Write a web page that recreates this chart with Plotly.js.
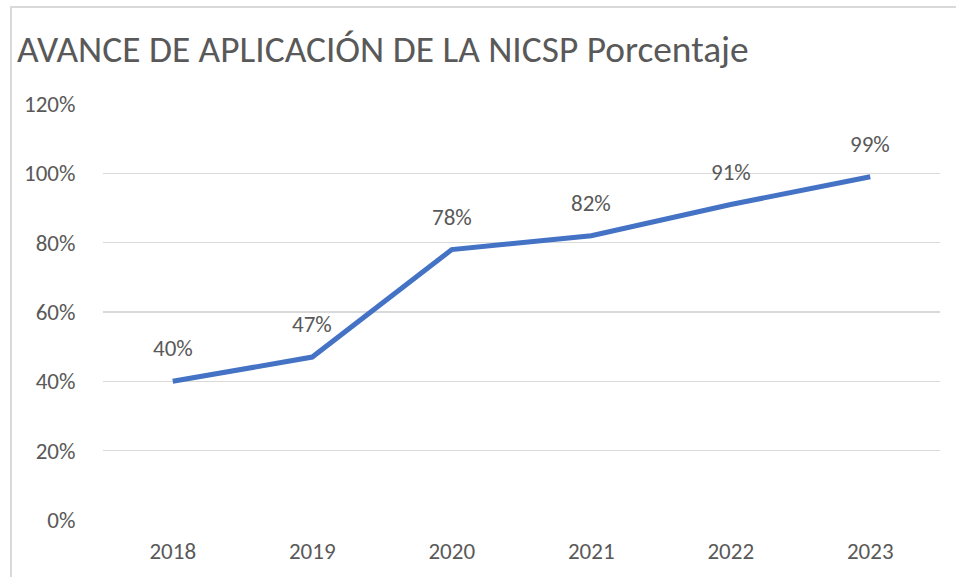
<!DOCTYPE html>
<html>
<head>
<meta charset="utf-8">
<script src="https://cdn.plot.ly/plotly-3.0.1.min.js"></script>
<style>
html,body{margin:0;padding:0;background:#fff;}
#wrap{position:relative;width:956px;height:577px;}
#chart{position:absolute;left:0;top:0;width:956px;height:577px;}
#frame{position:absolute;left:10px;top:6px;width:946px;height:571px;border-left:2px solid #d9d9d9;border-top:2px solid #d9d9d9;pointer-events:none;box-sizing:border-box;}
</style>
</head>
<body>
<div id="wrap"><div id="chart"></div><div id="frame"></div></div>
<script>
const years = [2018, 2019, 2020, 2021, 2022, 2023];
const avance = [0.40, 0.47, 0.78, 0.82, 0.91, 0.99];
const labels = ['40%','47%','78%','82%','91%','99%'];
const yTicks = [0, 0.2, 0.4, 0.6, 0.8, 1.0, 1.2];
const yTickText = ['0%','20%','40%','60%','80%','100%','120%'];

const font = 'Carlito, Calibri, "Open Sans", sans-serif';
const gray = '#595959';

const trace = {
  x: years, y: avance, type: 'scatter', mode: 'lines',
  line: {color: '#4472C4', width: 5},
  hoverinfo: 'skip'
};

const annotations = years.map((yr, i) => ({
  x: yr, y: avance[i], xref: 'x', yref: 'y', text: labels[i], showarrow: false,
  yshift: 33, font: {family: font, size: 23, color: gray}
}));

const layout = {
  width: 956, height: 577,
  margin: {l: 103, r: 16, t: 104, b: 57},
  paper_bgcolor: '#fff', plot_bgcolor: '#fff',
  showlegend: false,
  title: {text: 'AVANCE DE APLICACIÓN DE LA NICSP Porcentaje', x: 0, xref: 'container', xanchor: 'left',
          y: 1, yref: 'container', yanchor: 'top', pad: {t: 36, l: 17},
          font: {family: font, size: 37.4, color: gray}},
  xaxis: {type: 'linear', range: [years[0] - 0.5, years[years.length - 1] + 0.5],
          tickvals: years, ticktext: years.map(String),
          showgrid: false, zeroline: false, showline: false,
          ticks: 'outside', ticklen: 10, tickcolor: 'rgba(0,0,0,0)',
          tickfont: {family: font, size: 23, color: gray}, fixedrange: true},
  yaxis: {range: [0, 1.2], tickvals: yTicks, ticktext: yTickText,
          showgrid: true, gridcolor: '#d9d9d9', gridwidth: 1.3, zeroline: false, showline: false,
          ticks: 'outside', ticklen: 22, tickcolor: 'rgba(0,0,0,0)',
          tickfont: {family: font, size: 23, color: gray}, fixedrange: true},
  annotations: annotations
};

Plotly.newPlot('chart', [trace], layout, {displayModeBar: false, staticPlot: true});
</script>
</body>
</html>
